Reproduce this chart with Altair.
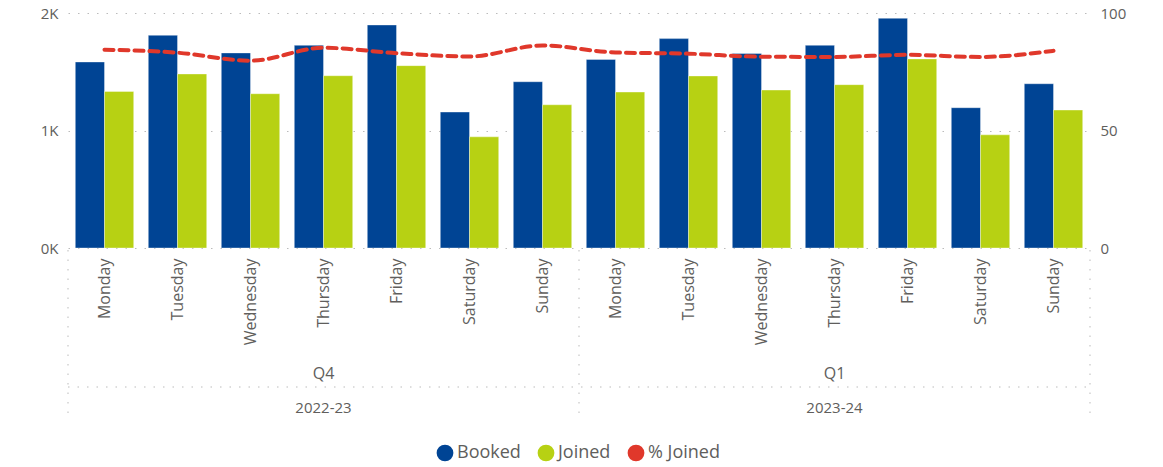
import altair as alt
import pandas as pd

years = ["2022-23"] * 7 + ["2023-24"] * 7
quarters = ["Q4"] * 7 + ["Q1"] * 7
days = ["Monday", "Tuesday", "Wednesday", "Thursday", "Friday", "Saturday", "Sunday"] * 2
booked = [1583, 1810, 1660, 1725, 1898, 1157, 1415, 1605, 1782, 1656, 1725, 1955, 1194, 1398]
joined = [1332, 1481, 1313, 1466, 1552, 946, 1219, 1327, 1464, 1344, 1390, 1609, 963, 1174]
pct_joined = [84.4, 83.1, 79.7, 85.2, 82.9, 81.5, 86.2, 83.2, 82.7, 81.4, 81.3, 82.2, 81.3, 83.9]

keys = [f"{y}|{q}|{d}" for y, q, d in zip(years, quarters, days)]

bars_df = pd.DataFrame(
    [{"key": k, "series": "Booked", "value": b, "order": 0} for k, b in zip(keys, booked)]
    + [{"key": k, "series": "Joined", "value": j, "order": 1} for k, j in zip(keys, joined)]
)
line_df = pd.DataFrame({"key": keys, "series": "% Joined", "pct": pct_joined})

groups_df = pd.DataFrame({
    "key": [keys[3], keys[10]],
    "quarter": ["Q4", "Q1"],
    "year": ["2022-23", "2023-24"],
})
sep_df = pd.DataFrame({"key": [keys[7]]})

FONT = "Open Sans"
GRAY = "#605E5C"
W, H = 1022, 235

xscale = alt.Scale(domain=keys, paddingInner=0.2, paddingOuter=0.1)
color_scale = alt.Scale(domain=["Booked", "Joined", "% Joined"],
                        range=["#004494", "#B7D113", "#E0382B"])

x_axis = alt.Axis(
    title=None, labelAngle=-90, labelExpr="split(datum.value, '|')[2]",
    labelFont=FONT, labelFontSize=16, labelColor=GRAY, labelPadding=10,
    ticks=False, domain=False, grid=False,
)

bars = alt.Chart(bars_df).mark_bar(stroke="#ffffff", strokeWidth=0.6, strokeOpacity=0.6).encode(
    x=alt.X("key:N", scale=xscale, axis=x_axis, sort=keys),
    xOffset=alt.XOffset("series:N", sort=["Booked", "Joined"],
                        scale=alt.Scale(paddingInner=0, paddingOuter=0)),
    y=alt.Y("value:Q", scale=alt.Scale(domain=[0, 2000]),
            axis=alt.Axis(title=None, values=[0, 1000, 2000],
                          labelExpr="datum.value/1000 + 'K'",
                          labelFont=FONT, labelFontSize=15, labelColor=GRAY,
                          labelPadding=10, ticks=False, domain=False,
                          grid=True, gridDash=[1.5, 8], gridColor="#bbbbbb")),
    color=alt.Color("series:N", scale=color_scale,
                    legend=alt.Legend(title=None, orient="none", direction="horizontal",
                                      legendX=368, legendY=431, symbolType="circle",
                                      symbolSize=280, symbolStrokeWidth=0,
                                      labelFont=FONT, labelFontSize=18, labelColor=GRAY,
                                      columnPadding=16, labelOffset=3)),
)

line = alt.Chart(line_df).mark_line(
    strokeDash=[9, 6], strokeWidth=4, strokeCap="round", interpolate="monotone"
).encode(
    x=alt.X("key:N", scale=xscale, sort=keys),
    y=alt.Y("pct:Q", scale=alt.Scale(domain=[0, 100]),
            axis=alt.Axis(title=None, orient="right", values=[0, 50, 100],
                          labelFont=FONT, labelFontSize=15, labelColor=GRAY,
                          labelPadding=10, ticks=False, domain=False, grid=False)),
    color=alt.Color("series:N", scale=color_scale),
)

dot = dict(stroke="#bbbbbb", strokeWidth=1, strokeDash=[1.5, 8])
frame_left = alt.Chart(sep_df).mark_rule(**dot).encode(
    x=alt.value(0), y=alt.value(H + 2), y2=alt.value(H + 172))
frame_right = alt.Chart(sep_df).mark_rule(**dot).encode(
    x=alt.value(W), y=alt.value(H + 2), y2=alt.value(H + 172))
sep = alt.Chart(sep_df).mark_rule(xOffset=-7.3, **dot).encode(
    x=alt.X("key:N", scale=xscale, sort=keys, bandPosition=0),
    y=alt.value(H + 2), y2=alt.value(H + 172))
hline = alt.Chart(sep_df).mark_rule(**dot).encode(
    x=alt.value(0), x2=alt.value(W), y=alt.value(H + 139))

q_text = alt.Chart(groups_df).mark_text(font=FONT, fontSize=16, color=GRAY).encode(
    x=alt.X("key:N", scale=xscale, sort=keys), y=alt.value(H + 126), text="quarter:N")
y_text = alt.Chart(groups_df).mark_text(font=FONT, fontSize=15, color=GRAY).encode(
    x=alt.X("key:N", scale=xscale, sort=keys), y=alt.value(H + 160), text="year:N")

chart = alt.layer(
    bars, line, frame_left, frame_right, sep, hline, q_text, y_text
).resolve_scale(y="independent").properties(
    width=W, height=H,
    autosize=alt.AutoSizeParams(type="none"),
    padding={"left": 68, "top": 13, "right": 73, "bottom": 219},
).configure_view(stroke=None)

chart.save("out.html", embed_options={"renderer": "svg", "actions": False})
